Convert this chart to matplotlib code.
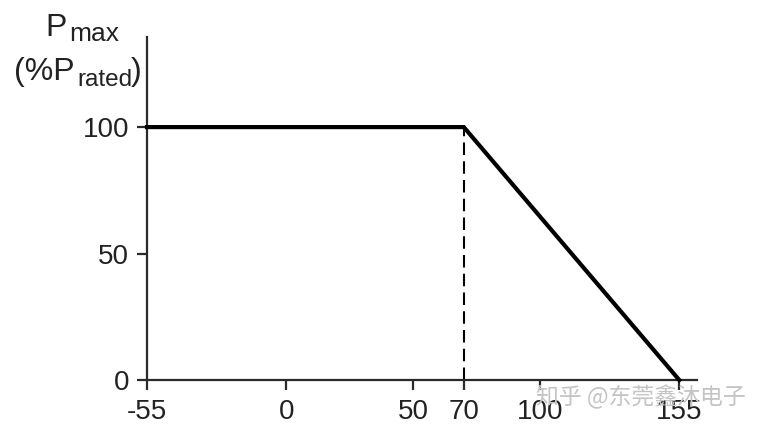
import matplotlib
matplotlib.use("Agg")
import matplotlib.pyplot as plt

plt.rcParams['font.family'] = ['Liberation Sans', 'DejaVu Sans']
plt.rcParams['axes.unicode_minus'] = False

# derating curve: max power vs temperature
temp_pts = [-55, 70, 155]
pmax_pts = [100, 100, 0]
knee_temp = 70
x_ticks = [-55, 0, 50, 70, 100, 155]
y_ticks = [0, 50, 100]

W, H = 766, 433

def px(x, y):
    # pixel position (from top-left) -> figure fraction
    return x / W, 1 - y / H

fig = plt.figure(figsize=(W / 100, H / 100), dpi=100)
ax = fig.add_axes([0.1919, 0.1224, 0.718, 0.792])

ax.plot(temp_pts, pmax_pts, color='black', lw=3, solid_joinstyle='miter', clip_on=False, zorder=3)
ax.plot([knee_temp, knee_temp], [0, 100], color='black', lw=1.5, ls=(0, (6, 3)), zorder=2)

ax.set_xlim(-55, 162)
ax.set_ylim(0, 135.6)
ax.set_xticks(x_ticks)
ax.set_yticks(y_ticks)

for side in ['top', 'right']:
    ax.spines[side].set_visible(False)
for side in ['left', 'bottom']:
    ax.spines[side].set_linewidth(1.6)
    ax.spines[side].set_color('#2a2a2a')

ax.tick_params(axis='both', direction='out', length=7, width=1.6, color='#2a2a2a',
               labelsize=20, labelcolor='#222222')
ax.tick_params(axis='y', pad=6)
ax.tick_params(axis='x', pad=7)

# y axis label, drawn piecewise so the subscripts keep their large size
lab = dict(color='#222222', va='baseline', ha='left')
fig.text(*px(45, 36), 'P', fontsize=23, **lab)
fig.text(*px(69, 41), 'max', fontsize=19, **lab)
fig.text(*px(14, 80), '(%P', fontsize=23, **lab)
fig.text(*px(77, 86), 'rated', fontsize=17.5, **lab)
fig.text(*px(131, 80), ')', fontsize=23, **lab)

# watermark
fig.text(*px(641, 397), '知乎 @东莞鑫沐电子', fontsize=16.5, color='#c4c4c4',
         family=['Noto Sans CJK SC', 'DejaVu Sans'], ha='center', va='center', zorder=10)

fig.savefig('out.png', dpi=100)
